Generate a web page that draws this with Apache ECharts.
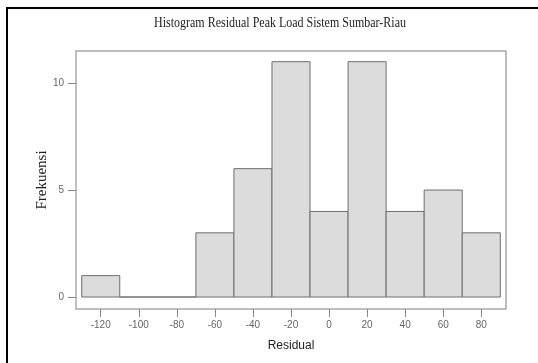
<!DOCTYPE html>
<html>
<head>
<meta charset="utf-8">
<script src="https://cdn.jsdelivr.net/npm/echarts@6/dist/echarts.min.js"></script>
<style>
  html, body { margin: 0; padding: 0; background: #fff; }
  #chart { width: 538px; height: 363px; }
</style>
</head>
<body>
<div id="chart"></div>
<script>
const chartTitle = 'Histogram Residual Peak Load Sistem Sumbar-Riau';
const xName = 'Residual';
const yName = 'Frekuensi';
const binCenters = [-120, -100, -80, -60, -40, -20, 0, 20, 40, 60, 80];
const counts = [1, 0, 0, 3, 6, 11, 4, 11, 4, 5, 3];
const binWidth = 20;
const xTicks = [-120, -100, -80, -60, -40, -20, 0, 20, 40, 60, 80];
const yTicks = [0, 5, 10];

const chart = echarts.init(document.getElementById('chart'), null, { renderer: 'canvas' });

const data = binCenters.map((c, i) => [c, counts[i]]);

const option = {
  backgroundColor: '#ffffff',
  animation: false,
  grid: {
    left: 76, top: 51, width: 430, height: 258,
    show: true, borderColor: '#a9a9a9', borderWidth: 1.5, backgroundColor: 'transparent'
  },
  xAxis: {
    type: 'value', min: -133, max: 93,
    name: xName, nameLocation: 'middle', nameGap: 31, nameMoveOverlap: false,
    nameTextStyle: { fontFamily: 'Liberation Sans', fontSize: 12, color: '#222' },
    axisLine: { show: false, onZero: false },
    axisTick: { show: true, customValues: xTicks, length: 8, lineStyle: { color: '#888', width: 1 } },
    axisLabel: { customValues: xTicks, color: '#666', fontSize: 10, fontFamily: 'Liberation Sans', margin: 11 },
    splitLine: { show: false }
  },
  yAxis: {
    type: 'value', min: -0.56, max: 11.5,
    name: yName, nameLocation: 'middle', nameGap: 26, nameRotate: 90, nameMoveOverlap: false,
    nameTextStyle: { fontFamily: 'Liberation Serif', fontSize: 15, color: '#222' },
    axisLine: { show: false, onZero: false },
    axisTick: { show: true, customValues: yTicks, length: 8, lineStyle: { color: '#888', width: 1 } },
    axisLabel: { customValues: yTicks, color: '#666', fontSize: 10, fontFamily: 'Liberation Sans', margin: 12 },
    splitLine: { show: false }
  },
  series: [{
    type: 'custom',
    data: data,
    renderItem: function (params, api) {
      const c = api.value(0), v = api.value(1);
      const p0 = api.coord([c - binWidth / 2, v]);
      const p1 = api.coord([c + binWidth / 2, 0]);
      return {
        type: 'rect',
        shape: { x: p0[0], y: p0[1], width: p1[0] - p0[0], height: p1[1] - p0[1] },
        style: { fill: '#dcdcdc', stroke: '#6e6e6e', lineWidth: 1 }
      };
    }
  }],
  graphic: [
    { type: 'line', shape: { x1: 7, y1: 8, x2: 538, y2: 8 }, style: { stroke: '#000', lineWidth: 2 } },
    { type: 'line', shape: { x1: 7, y1: 7, x2: 7, y2: 363 }, style: { stroke: '#000', lineWidth: 2 } },
    {
      type: 'text', x: 280, y: 23, scaleX: 0.8, scaleY: 1,
      style: {
        text: chartTitle, font: '15px "Liberation Serif"', fill: '#222',
        textAlign: 'center', textVerticalAlign: 'middle'
      }
    }
  ]
};
chart.setOption(option);
</script>
</body>
</html>
